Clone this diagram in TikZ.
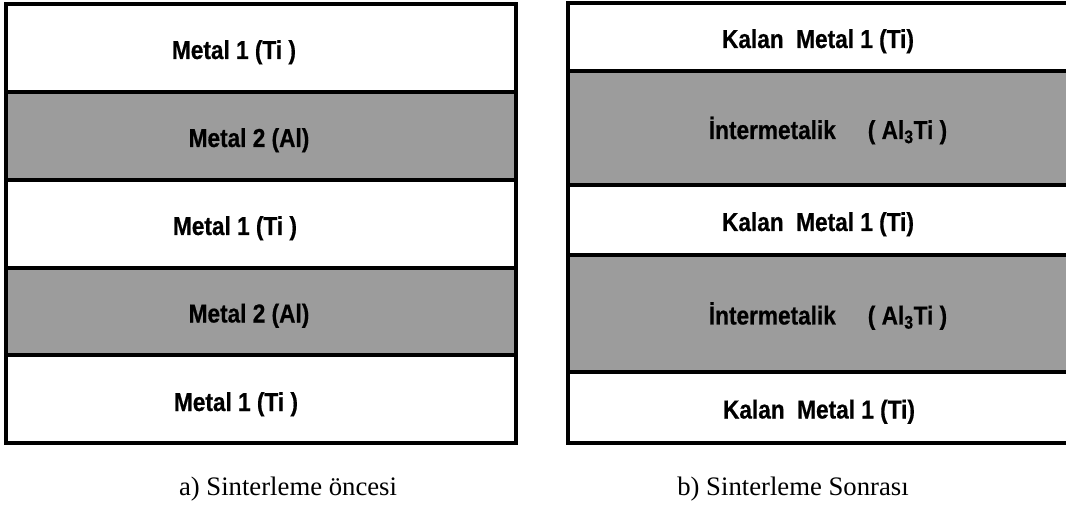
\documentclass[tikz,border=0pt]{standalone}
\usepackage{fontspec}
\setmainfont{Liberation Serif}
\newfontfamily\layerfont[FakeStretch=0.87,FakeBold=0.6]{Liberation Sans}
\definecolor{layergray}{RGB}{156,156,156}

\begin{document}
\begin{tikzpicture}[x=1pt, y=1pt,
  layer/.style={draw=black, line width=3.2pt},
  lbl/.style={anchor=base, inner sep=0pt, font=\layerfont\bfseries\fontsize{26}{28}\selectfont},
  caption/.style={anchor=base, inner sep=0pt, font=\fontsize{26.7}{30}\selectfont}]
\clip (0,0) rectangle (1066,504);
% a) before sintering
\draw[layer, fill=white] (6,412) rectangle (516,500);
\draw[layer, fill=layergray] (6,324) rectangle (516,412);
\draw[layer, fill=white] (6,236) rectangle (516,324);
\draw[layer, fill=layergray] (6,149) rectangle (516,236);
\draw[layer, fill=white] (6,61) rectangle (516,149);
\node[lbl] (ti1) at (234,445) {Metal 1 (Ti )};
\node[lbl] (al1) at (249,357) {Metal 2 (Al)};
\node[lbl] (ti2) at (235,269) {Metal 1 (Ti )};
\node[lbl] (al2) at (249,181.5) {Metal 2 (Al)};
\node[lbl] (ti3) at (236,93) {Metal 1 (Ti )};
\node[caption] (capa) at (288,9) {a) Sinterleme öncesi};
% b) after sintering
\draw[layer, fill=white] (568,433) rectangle (1090,501);
\draw[layer, fill=layergray] (568,319) rectangle (1090,433);
\draw[layer, fill=white] (568,249) rectangle (1090,319);
\draw[layer, fill=layergray] (568,132) rectangle (1090,249);
\draw[layer, fill=white] (568,61) rectangle (1090,132);
\node[lbl] (kti1) at (818,456) {Kalan\ \ Metal 1 (Ti)};
\node[lbl] (im1) at (828,365) {İntermetalik\hspace{32pt}( Al\textsubscript{3}Ti )};
\node[lbl] (kti2) at (818,273) {Kalan\ \ Metal 1 (Ti)};
\node[lbl] (im2) at (828,179.5) {İntermetalik\hspace{32pt}( Al\textsubscript{3}Ti )};
\node[lbl] (kti3) at (819,85.5) {Kalan\ \ Metal 1 (Ti)};
\node[caption] (capb) at (793,9) {b) Sinterleme Sonrası};
\end{tikzpicture}
\end{document}
